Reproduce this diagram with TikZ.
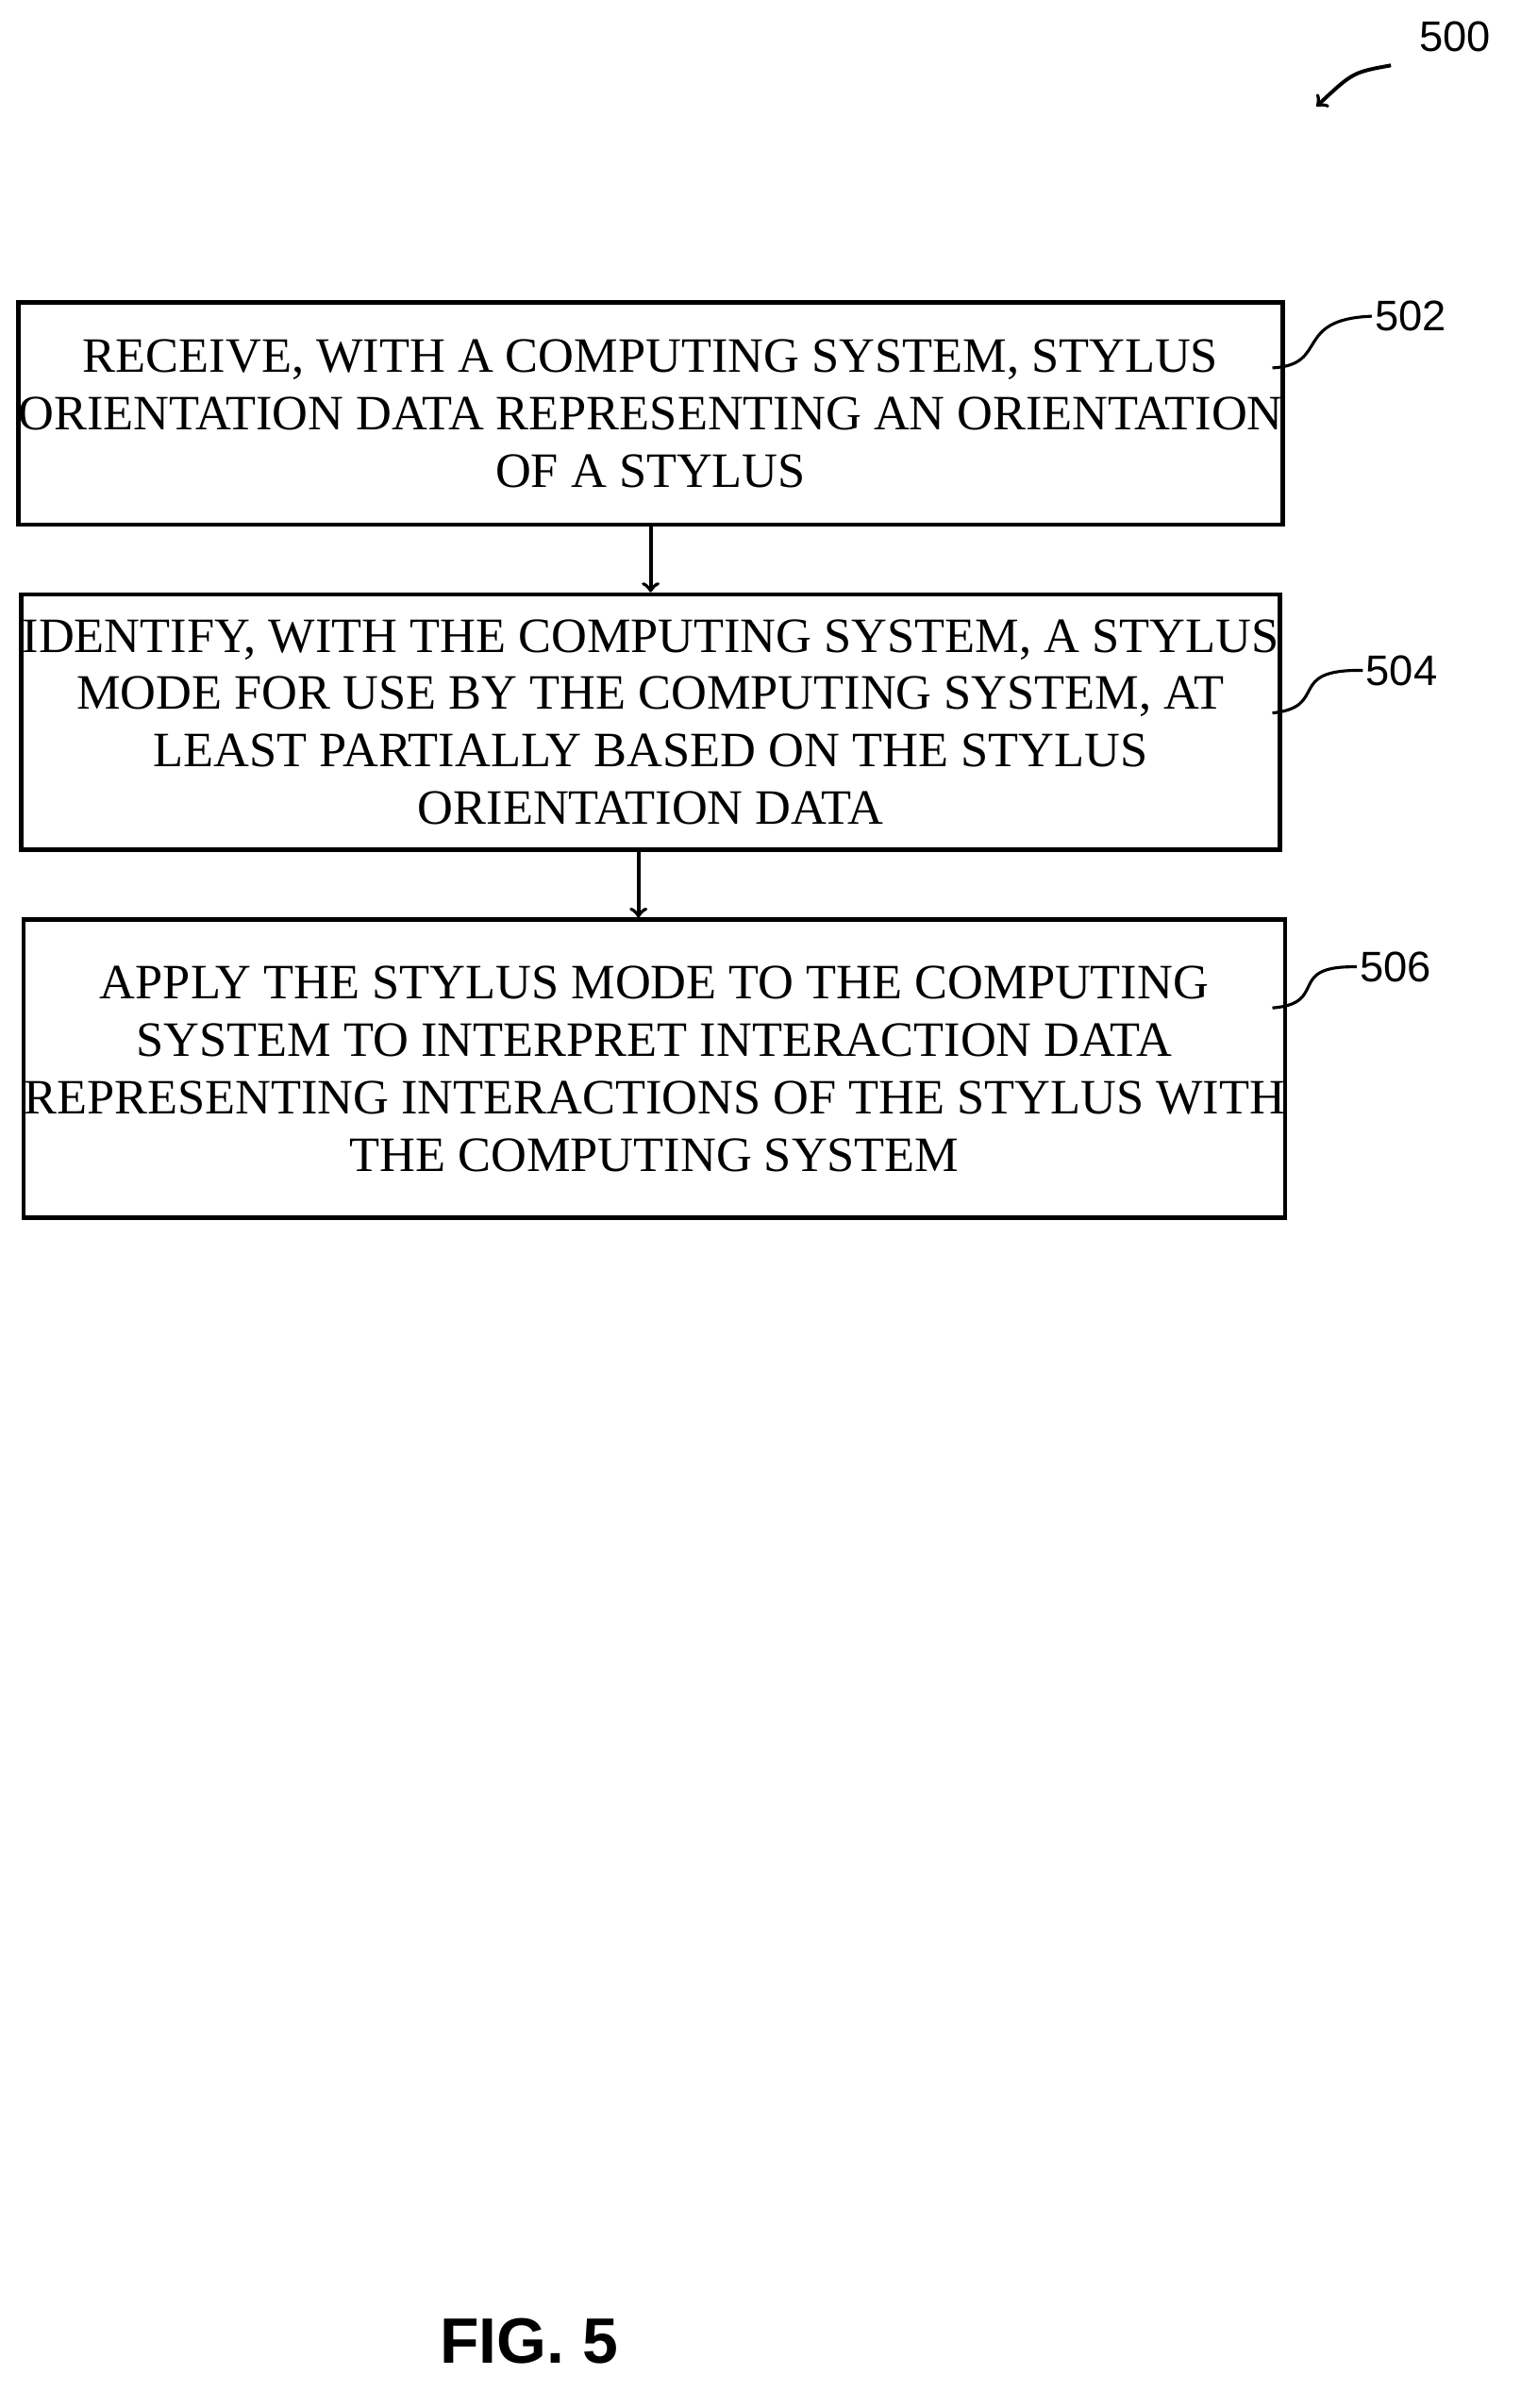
\documentclass[tikz,border=0pt]{standalone}
\usepackage{fontspec}
\setmainfont{Liberation Serif}
\setsansfont{Liberation Sans}
\usetikzlibrary{positioning}
\tikzset{
	stepbox/.style={draw=black, line width=1.6pt, align=center, inner sep=0pt,
		font=\fontsize{18.5}{21.5}\selectfont},
	refnum/.style={font=\sffamily\fontsize{16}{18}\selectfont, inner sep=1pt},
	leader/.style={line width=1.1pt}
}
\begin{document}
\begin{tikzpicture}
	\useasboundingbox (0,0) rectangle (20,-31.68);
	
	\node[stepbox, minimum width=16.56cm, minimum height=2.92cm] (502) at (8.56,-5.44)
		{RECEIVE, WITH A COMPUTING SYSTEM, STYLUS\\ORIENTATION DATA REPRESENTING AN ORIENTATION\\OF A STYLUS};
	\node[stepbox, minimum width=16.56cm, minimum height=3.36cm] (504) at (8.56,-9.5)
		{IDENTIFY, WITH THE COMPUTING SYSTEM, A STYLUS\\MODE FOR USE BY THE COMPUTING SYSTEM, AT\\LEAST PARTIALLY BASED ON THE STYLUS\\ORIENTATION DATA};
	\node[stepbox, minimum width=16.58cm, minimum height=3.92cm] (506) at (8.61,-14.06)
		{APPLY THE STYLUS MODE TO THE COMPUTING\\SYSTEM TO INTERPRET INTERACTION DATA\\REPRESENTING INTERACTIONS OF THE STYLUS WITH\\THE COMPUTING SYSTEM};
	
	\path[->, line width=1.4pt] (502.south) edge (504.north);
	\path[->, line width=1.4pt] ([xshift=-0.16cm]504.south) edge ([xshift=-0.21cm]506.north);
	
	\node[refnum] (n502) at (18.56,-4.16) {502};
	\node[refnum] (n504) at (18.44,-8.82) {504};
	\node[refnum] (n506) at (18.36,-12.72) {506};
	\node[refnum] (n500) at (19.14,-0.48) {500};
	
	\draw[leader] (16.74,-4.84) .. controls (17.5,-4.8) and (17.0,-4.2) .. (n502.west);
	\draw[leader] (16.74,-9.38) .. controls (17.5,-9.3) and (16.9,-8.8) .. (n504.west);
	\draw[leader] (16.74,-13.26) .. controls (17.5,-13.2) and (16.9,-12.7) .. (n506.west);
	\draw[->, line width=1.4pt] (18.3,-0.86) .. controls (17.8,-0.95) .. (17.32,-1.4);
	
	\node[font=\sffamily\bfseries\fontsize{24}{26}\selectfont] (fig) at (6.96,-30.8) {FIG. 5};
\end{tikzpicture}
\end{document}
